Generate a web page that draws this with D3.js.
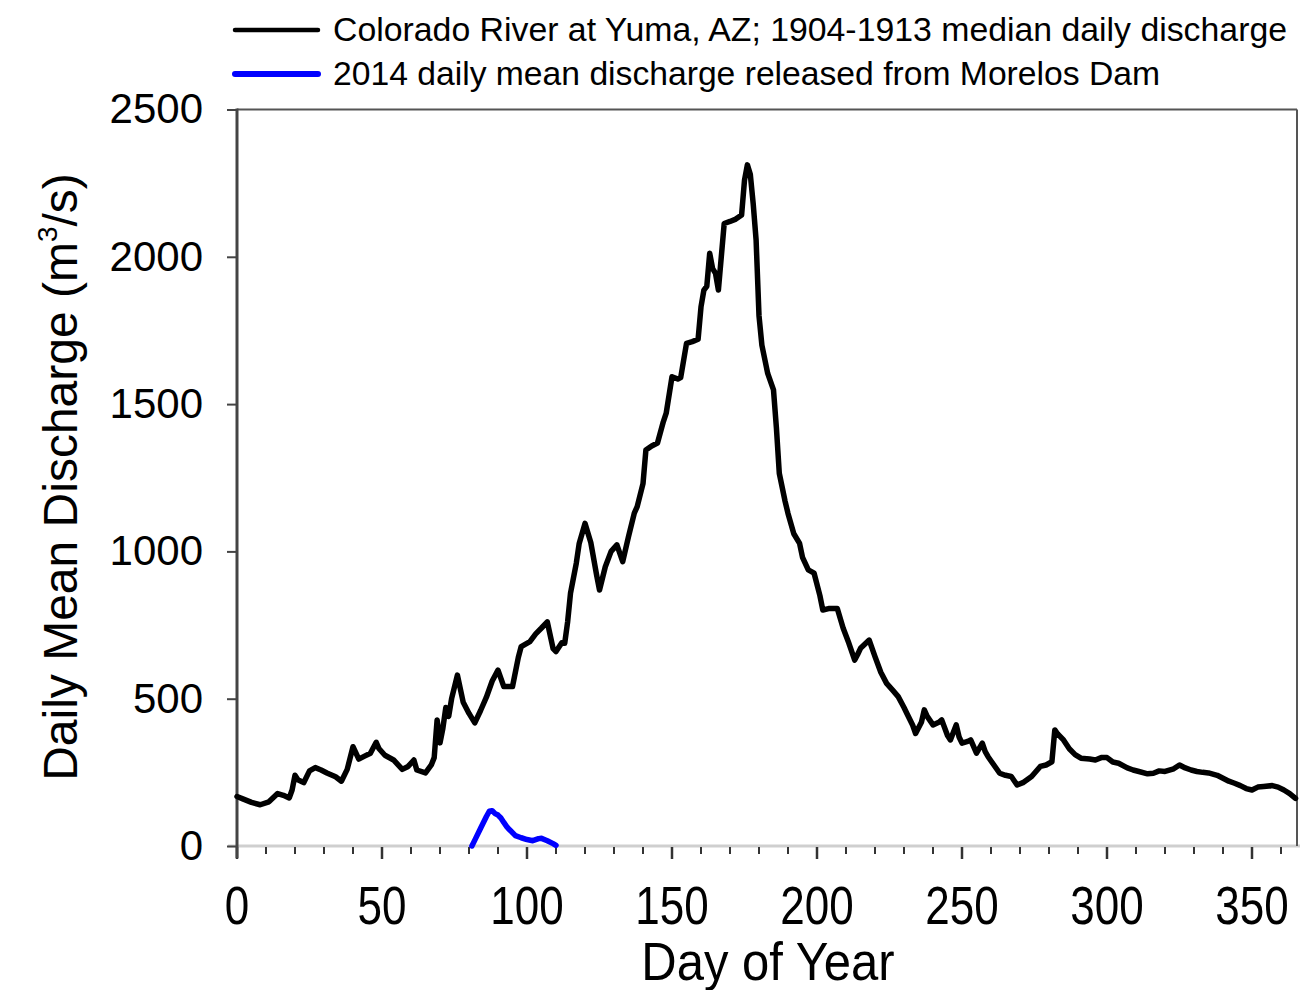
<!DOCTYPE html>
<html>
<head>
<meta charset="utf-8">
<script src="https://cdn.jsdelivr.net/npm/d3@7"></script>
<style>
  html, body { margin: 0; padding: 0; background: #fff; }
  svg { display: block; }
  text { font-family: "Liberation Sans", Arial, Helvetica, sans-serif; fill: #000; }
</style>
</head>
<body>
<svg id="chart" width="1315" height="990"></svg>
<script>
// ---- data ----
const seriesNames = [
  "Colorado River at Yuma, AZ; 1904-1913 median daily discharge",
  "2014 daily mean discharge released from Morelos Dam"
];
const seriesColors = ["#000000", "#0000ff"];

const yumaDays = [0,2,5,8,11,14,16,18,19,20,21,23,25,27,29,31,34,36,38,40,42,44,46,48,49,51,54,57,59,61,62,65,67,68,69,70,71,72,73,74,76,78,80,82,84,86,88,90,92,95,97,98,101,103,105,107,109,110,112,113,114,115,117,118,120,122,124,125,127,129,131,133,135,137,138,140,141,143,145,147,148,150,152,153,155,157,159,160,161,162,163,164,165,166,167,168,170,172,174,175,176,177,178,179,180,181,183,185,186,187,189,190,192,194,195,197,199,201,202,204,207,209,211,213,214,215,218,220,222,224,226,228,230,231,233,234,236,237,238,240,242,243,245,246,248,249,250,252,253,255,257,258,259,261,263,265,267,269,271,274,277,279,281,282,283,285,287,289,291,294,296,298,300,302,304,307,309,311,314,316,318,320,323,325,327,329,331,333,335,338,340,342,344,346,348,350,352,354,357,359,361,363,365];
const yumaValues = [168,160,148,140,150,178,172,163,190,240,225,215,255,266,258,248,235,220,260,337,295,305,315,352,330,308,292,260,270,292,258,248,275,300,428,350,400,470,440,500,580,488,450,418,460,505,560,597,541,541,640,677,694,720,740,761,670,660,690,688,760,858,960,1027,1095,1030,920,869,948,1000,1022,965,1050,1130,1152,1230,1344,1358,1368,1440,1469,1593,1585,1590,1706,1712,1720,1830,1887,1900,2012,1960,1944,1887,2000,2113,2120,2128,2142,2260,2312,2280,2180,2057,1800,1700,1604,1548,1420,1265,1170,1129,1060,1027,980,937,926,850,801,806,806,740,688,631,650,671,699,643,590,552,530,507,470,450,410,382,420,462,440,411,420,428,375,360,411,370,349,355,360,315,349,320,303,275,247,240,236,207,215,236,270,275,286,394,380,360,330,310,298,295,292,300,300,285,281,265,258,253,245,247,255,253,262,275,265,258,253,250,248,240,230,220,213,205,195,190,200,202,205,200,190,178,162];

const morelosDays = [81,82,84,86,87,88,89,90,91,92,93,94,96,98,100,102,104,105,107,109,110];
const morelosValues = [0,20,60,100,118,120,110,105,95,80,66,55,35,28,22,18,25,26,18,8,2];

const yTicks = [0, 500, 1000, 1500, 2000, 2500];
const xTickLabels = [0, 50, 100, 150, 200, 250, 300, 350];
const xMinorTicks = d3.range(0, 361, 10);

const xTitle = "Day of Year";
const yTitle = "Daily Mean Discharge (m";
const yTitleSup = "3";
const yTitleEnd = "/s)";

// ---- drawing ----
const svg = d3.select("#chart");
const plotLeft = 237, plotRight = 1297, plotTop = 109.5, plotBottom = 846;

const x = d3.scaleLinear().domain([0, 365]).range([plotLeft, plotLeft + (1252 - 237) * 365 / 350]);
const y = d3.scaleLinear().domain([0, 2500]).range([plotBottom, plotTop]);

// bottom axis baseline (light gray)
svg.append("line")
  .attr("x1", 228).attr("x2", 1300).attr("y1", plotBottom).attr("y2", plotBottom)
  .attr("stroke", "#cfcfcf").attr("stroke-width", 3);

// frame top and right
svg.append("line").attr("x1", plotLeft).attr("x2", plotRight).attr("y1", plotTop).attr("y2", plotTop)
  .attr("stroke", "#555").attr("stroke-width", 2);
svg.append("line").attr("x1", plotRight).attr("x2", plotRight).attr("y1", plotTop).attr("y2", plotBottom)
  .attr("stroke", "#555").attr("stroke-width", 2);

// x ticks (minor every 10, major every 50)
const xt = svg.append("g");
xt.selectAll("line").data(xMinorTicks).join("line")
  .attr("x1", d => x(d)).attr("x2", d => x(d))
  .attr("y1", plotBottom + 1)
  .attr("y2", d => d % 50 === 0 ? plotBottom + 13 : plotBottom + 8)
  .attr("stroke", "#333").attr("stroke-width", d => d % 50 === 0 ? 2.5 : 2);

xt.selectAll("text").data(xTickLabels).join("text")
  .attr("transform", d => `translate(${x(d)},924) scale(1,1.2)`)
  .attr("text-anchor", "middle")
  .attr("font-size", 44)
  .text(d => d);

// y axis
const yAxis = d3.axisLeft(y).tickValues(yTicks).tickSize(10).tickPadding(24).tickFormat(d3.format("d"));
const ya = svg.append("g").attr("transform", `translate(${plotLeft},0)`).call(yAxis);
ya.select(".domain").remove();
ya.selectAll(".tick line").attr("stroke", "#444").attr("stroke-width", 2);
ya.selectAll(".tick text").attr("font-size", 42).attr("font-family", "Liberation Sans, Arial, sans-serif").attr("fill", "#000");
svg.append("line").attr("x1", plotLeft).attr("x2", plotLeft).attr("y1", plotTop - 1).attr("y2", plotBottom + 12)
  .attr("stroke", "#444").attr("stroke-width", 3);

// data lines
const line = d3.line().x(d => x(d[0])).y(d => y(d[1])).curve(d3.curveLinear);
const yumaData = yumaDays.map((d, i) => [d, yumaValues[i]]);
const morelosData = morelosDays.map((d, i) => [d, morelosValues[i]]);

svg.append("path").datum(morelosData).attr("d", line)
  .attr("fill", "none").attr("stroke", seriesColors[1]).attr("stroke-width", 5.5)
  .attr("stroke-linejoin", "round").attr("stroke-linecap", "round");

svg.append("path").datum(yumaData).attr("d", line)
  .attr("fill", "none").attr("stroke", seriesColors[0]).attr("stroke-width", 5.5)
  .attr("stroke-linejoin", "round").attr("stroke-linecap", "round");

// axis titles
svg.append("text")
  .attr("transform", "translate(768,980) scale(1,1.09)")
  .attr("text-anchor", "middle").attr("font-size", 49)
  .text(xTitle);

const yt = svg.append("text")
  .attr("transform", "translate(77,477) rotate(-90)")
  .attr("text-anchor", "middle").attr("font-size", 48);
yt.append("tspan").text(yTitle);
yt.append("tspan").attr("font-size", 28).attr("dy", -20).text(yTitleSup);
yt.append("tspan").attr("dy", 20).text(yTitleEnd);

// legend
const legY = [30, 74], legBase = [41, 85], legLen = [954, 827];
const leg = svg.append("g");
seriesNames.forEach((name, i) => {
  leg.append("line").attr("x1", 235).attr("x2", 318).attr("y1", legY[i]).attr("y2", legY[i])
    .attr("stroke", seriesColors[i]).attr("stroke-width", i === 0 ? 4.5 : 6).attr("stroke-linecap", "round");
  leg.append("text").attr("x", 333).attr("y", legBase[i]).attr("font-size", 33)
    .attr("textLength", legLen[i]).attr("lengthAdjust", "spacingAndGlyphs").text(name);
});
</script>
</body>
</html>
